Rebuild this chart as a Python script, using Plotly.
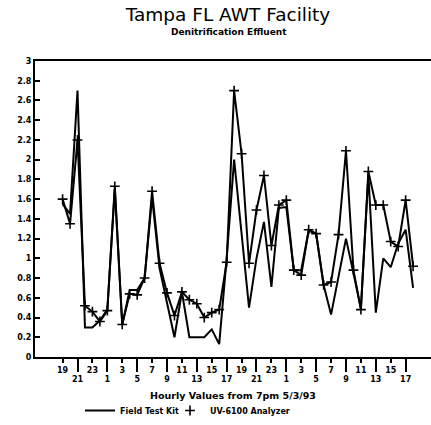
import plotly.graph_objects as go

# Hourly readings starting 7pm 5/3/93 (nitrate-N, mg/L)
field_test_kit = [1.55, 1.45, 2.70, 0.30, 0.30, 0.37, 0.48, 1.70, 0.33, 0.68,
                  0.68, 0.80, 1.62, 0.90, 0.55, 0.20, 0.66, 0.20, 0.20, 0.20,
                  0.28, 0.13, 1.00, 2.00, 1.25, 0.50, 1.00, 1.37, 0.71, 1.51,
                  1.52, 0.88, 0.88, 1.28, 1.25, 0.73, 0.43, 0.81, 1.20, 0.85,
                  0.49, 1.85, 0.45, 1.00, 0.91, 1.15, 1.29, 0.70]
uv_6100 = [1.60, 1.35, 2.20, 0.52, 0.46, 0.36, 0.47, 1.73, 0.33, 0.64,
           0.63, 0.80, 1.68, 0.95, 0.65, 0.42, 0.66, 0.58, 0.54, 0.40,
           0.45, 0.48, 0.96, 2.70, 2.06, 0.95, 1.49, 1.84, 1.13, 1.54,
           1.59, 0.88, 0.83, 1.29, 1.25, 0.73, 0.76, 1.24, 2.09, 0.88,
           0.48, 1.88, 1.54, 1.54, 1.17, 1.12, 1.59, 0.92]
hours_elapsed = list(range(len(field_test_kit)))

upper_tick_labels = ["19", "23", "3", "7", "11", "15", "19", "23", "3", "7", "11", "15"]
lower_tick_labels = ["21", "1", "5", "9", "13", "17", "21", "1", "5", "9", "13", "17"]
upper_tick_vals = [4 * i for i in range(len(upper_tick_labels))]
lower_tick_vals = [4 * i + 2 for i in range(len(lower_tick_labels))]
y_tick_vals = [round(0.2 * i, 1) for i in range(16)]
y_tick_text = ["0", "0.2", "0.4", "0.6", "0.8", "1", "1.2", "1.4", "1.6", "1.8",
               "2", "2.2", "2.4", "2.6", "2.8", "3"]

FONT = "DejaVu Sans"
x_range = [-3.7, 49.4]
marker_style = dict(symbol="cross-thin", size=7, color="black",
                    line=dict(width=1.6, color="black"))

fig = go.Figure()
fig.add_trace(go.Scatter(
    x=hours_elapsed, y=field_test_kit, mode="lines", name="Field Test Kit",
    line=dict(color="black", width=2), legend="legend"))
fig.add_trace(go.Scatter(
    x=hours_elapsed, y=uv_6100, mode="lines+markers", name="UV-6100 Analyzer",
    showlegend=False, line=dict(color="black", width=2), marker=marker_style))
fig.add_trace(go.Scatter(
    x=[None], y=[None], mode="markers", name="UV-6100 Analyzer", xaxis="x2",
    marker=marker_style, legend="legend2"))

tickfont = dict(family=FONT, size=8, color="black", weight="bold")
legend_font = dict(family=FONT, size=8, color="black", weight="bold")
legend_y = -(411 - 357) / 296

fig.update_layout(
    width=431, height=425,
    margin=dict(l=35, r=0, t=61, b=68),
    paper_bgcolor="white", plot_bgcolor="white",
    title=dict(text="Tampa FL AWT Facility", x=0.529, xanchor="center",
               y=1 - 15 / 425, yanchor="middle",
               font=dict(family=FONT, size=18.5, color="black")),
    xaxis=dict(range=x_range, showline=True, linecolor="black", linewidth=2,
               mirror=True, ticks="outside", ticklen=4, tickwidth=1.5,
               tickcolor="black", tickvals=upper_tick_vals,
               ticktext=upper_tick_labels, tickfont=tickfont,
               showgrid=False, zeroline=False),
    xaxis2=dict(range=x_range, overlaying="x", anchor="y", side="bottom",
                showline=False, ticks="outside", ticklen=14, tickwidth=1.5,
                tickcolor="black", tickvals=lower_tick_vals,
                ticktext=lower_tick_labels, tickfont=tickfont,
                showgrid=False, zeroline=False,
                title=dict(text="Hourly Values from 7pm 5/3/93",
                           font=dict(family=FONT, size=9.5, color="black", weight="bold"),
                           standoff=9)),
    yaxis=dict(range=[0, 3], showline=True, linecolor="black", linewidth=2,
               ticks="inside", ticklen=5, tickwidth=1.5, tickcolor="black",
               tickvals=y_tick_vals, ticktext=y_tick_text, tickfont=tickfont,
               showgrid=False, zeroline=False),
    legend=dict(orientation="h", x=(80 - 35) / 396, xanchor="left",
                y=legend_y, yanchor="middle", font=legend_font,
                bgcolor="rgba(0,0,0,0)"),
    legend2=dict(orientation="h", x=(170 - 35) / 396, xanchor="left",
                 y=legend_y, yanchor="middle", font=legend_font,
                 bgcolor="rgba(0,0,0,0)"),
    annotations=[dict(text="<b>Denitrification Effluent</b>", xref="paper", yref="paper",
                      x=(229 - 35) / 396, y=(357 - 32) / 296, showarrow=False,
                      xanchor="center", yanchor="middle",
                      font=dict(family=FONT, size=9, color="black"))],
)

fig.write_html("out.html", config={"displayModeBar": False},
               post_script="document.body.style.margin='0';")
